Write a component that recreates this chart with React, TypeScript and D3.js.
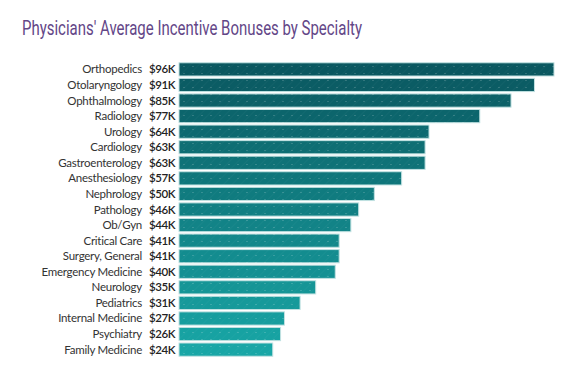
import React from "react";
import * as d3 from "d3";

const categories = [
  "Orthopedics", "Otolaryngology", "Ophthalmology", "Radiology", "Urology",
  "Cardiology", "Gastroenterology", "Anesthesiology", "Nephrology", "Pathology",
  "Ob/Gyn", "Critical Care", "Surgery, General", "Emergency Medicine",
  "Neurology", "Pediatrics", "Internal Medicine", "Psychiatry", "Family Medicine",
];
const values = [96, 91, 85, 77, 64, 63, 63, 57, 50, 46, 44, 41, 41, 40, 35, 31, 27, 26, 24];

const W = 575, H = 377;

export default function App() {
  const x = d3.scaleLinear().domain([0, 96]).range([179, 554]);
  const y = d3.scaleBand<string>().domain(categories).range([62, 357]).paddingInner(0.15).paddingOuter(0.05);
  const color = d3.scaleLinear<string>().domain([0, categories.length - 1]).range(["#0a5860", "#18a6a6"]).interpolate(d3.interpolateRgb);
  return (
    <svg width={W} height={H} style={{ position: "absolute", left: 0, top: 0, background: "#fff" }}>
      <defs>
        <pattern id="dots" width="9" height="7" patternUnits="userSpaceOnUse">
          <circle cx="4" cy="3.5" r="0.6" fill="rgba(255,255,255,0.35)" />
        </pattern>
        <pattern id="diag" width="6" height="6" patternUnits="userSpaceOnUse" patternTransform="rotate(45)">
          <line x1="0" y1="0" x2="0" y2="6" stroke="rgba(255,255,255,0.05)" strokeWidth="1" />
        </pattern>
      </defs>
      <text x={22} y={35} fontFamily="'Liberation Sans Narrow', Roboto, sans-serif" fontSize={20} fill="#634687" textLength={340} lengthAdjust="spacingAndGlyphs">
        Physicians' Average Incentive Bonuses by Specialty
      </text>
      {categories.map((c, i) => {
        const yy = y(c)!;
        const h = y.bandwidth();
        const w = x(values[i]) - x(0);
        return (
          <g key={c}>
            <rect x={x(0)} y={yy} width={w} height={h} fill={color(i)} stroke="#c2e2e2" strokeWidth={1} />
            <rect x={x(0)} y={yy} width={w} height={h} fill="url(#diag)" />
            <rect x={x(0)} y={yy} width={w} height={h} fill="url(#dots)" />
            <text x={142} y={yy + h / 2} dy="0.35em" textAnchor="end" fontFamily="Lato, sans-serif" fontSize={11.5} letterSpacing={-0.25} fill="#333">{c}</text>
            <text x={149} y={yy + h / 2} dy="0.35em" fontFamily="Lato, sans-serif" fontSize={11.5} fontWeight={600} letterSpacing={-0.4} fill="#222">${values[i]}K</text>
          </g>
        );
      })}
    </svg>
  );
}
